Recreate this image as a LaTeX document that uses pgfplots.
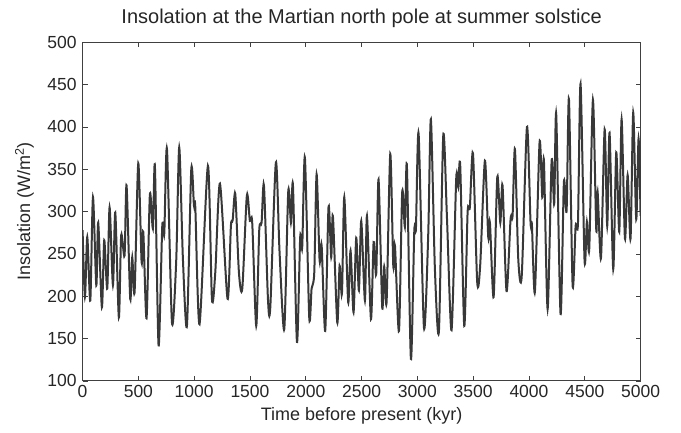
\documentclass[border=0pt]{standalone}
\usepackage{fontspec}
\setmainfont{Liberation Sans}
\usepackage{pgfplots}
\pgfplotsset{compat=1.18}
\definecolor{curve}{HTML}{383838}
\definecolor{frame}{HTML}{404040}

\begin{document}
\begin{tikzpicture}[x=1pt,y=1pt]
\useasboundingbox (0,0) rectangle (681,432);
\begin{axis}[
  at={(74,60.3)}, anchor=south west,
  scale only axis, width=558pt, height=338.7pt,
  xmin=0, xmax=5000, ymin=100, ymax=500,
  xtick={0,500,...,5000}, ytick={100,150,...,500},
  scaled x ticks=false,
  xticklabel style={/pgf/number format/1000 sep={}, yshift=-1pt},
  yticklabel style={xshift=-2.5pt},
  /pgf/number format/assume math mode=true,
  tick label style={font=\fontsize{17.5}{20}\selectfont, text=black!85},
  label style={font=\fontsize{18}{21}\selectfont, text=black!85},
  axis line style={frame, line width=1pt},
  major tick style={frame, line width=0.8pt},
  major tick length=5pt,
  tick align=inside,
  title={Insolation at the Martian north pole at summer solstice},
  title style={font=\fontsize{20}{24}\selectfont, text=black!85,
    at={(axis description cs:0.5,1)}, anchor=base, yshift=12.7pt},
  xlabel={Time before present (kyr)},
  xlabel style={at={(axis description cs:0.5,-0.104)}, anchor=center},
  ylabel={Insolation (W/m\textsuperscript{2})},
  ylabel style={at={(axis description cs:-0.104,0.5)}, anchor=center},
]
\addplot[curve, line width=2pt, smooth, tension=0.45] coordinates {
(0,278)(21,199)(42,270)(69,195)(93,317)(123,213)(140,287)(173,187)(194,266)(221,209)
(242,305)(272,213)(293,299)(325,175)(346,272)(376,248)(394,331)(427,197)(445,246)(466,205)
(499,357)(529,240)(544,276)(573,174)(603,320)
(630,280)(648,354)(681,142)(714,283)(732,274)(756,374)(801,169)(839,242)(866,376)(899,244)
(935,165)(974,350)(998,307)(1010,305)(1048,167)(1123,354)(1159,197)(1189,228)(1231,333)
(1299,197)(1329,283)(1345,290)(1368,321)(1401,228)(1431,209)(1472,319)(1499,289)(1520,287)
(1556,165)(1583,278)(1604,287)(1625,331)(1661,197)(1682,187)(1732,358)(1765,252)(1807,161)
(1843,324)(1867,287)(1885,331)(1921,146)(1950,270)(1968,258)(1992,364)
(2031,175)(2052,209)(2076,228)(2097,344)(2124,242)(2142,260)(2174,159)(2204,306)(2228,246)
(2243,295)(2282,169)(2303,236)(2324,203)(2345,317)(2380,193)(2401,254)(2428,181)(2452,269)
(2476,207)(2497,289)(2530,195)(2548,295)(2584,173)(2608,264)(2631,226)
(2652,338)(2685,187)(2703,235)(2724,193)(2757,368)(2784,236)(2799,260)(2835,159)(2864,323)
(2888,282)(2906,354)(2942,126)(2972,276)(2987,280)(3011,392)(3059,163)(3097,272)(3121,409)
(3157,232)(3193,159)(3232,390)(3265,293)
(3306,160)(3348,339)(3366,329)(3384,354)(3420,165)(3450,299)(3470,305)(3498,369)(3536,217)
(3563,237)(3605,360)(3635,270)(3650,287)(3683,199)(3716,341)(3743,287)(3763,331)(3799,206)
(3835,291)(3853,295)(3874,374)(3904,244)(3935,224)
(3982,400)(4014,287)(4026,285)(4053,205)(4095,382)(4119,317)(4134,360)(4167,185)(4203,360)
(4226,309)(4244,415)(4283,179)(4313,335)(4337,301)(4358,433)(4391,213)(4418,283)(4439,287)
(4462,451)(4498,242)(4519,288)(4540,256)(4573,432)
(4603,278)(4615,323)(4645,245)(4678,397)(4701,283)(4722,393)(4755,232)(4782,370)(4809,276)
(4830,409)(4860,268)(4884,343)(4910,268)(4934,417)(4961,291)(4982,386)(5000,295)
};
\end{axis}
\end{tikzpicture}
\end{document}
